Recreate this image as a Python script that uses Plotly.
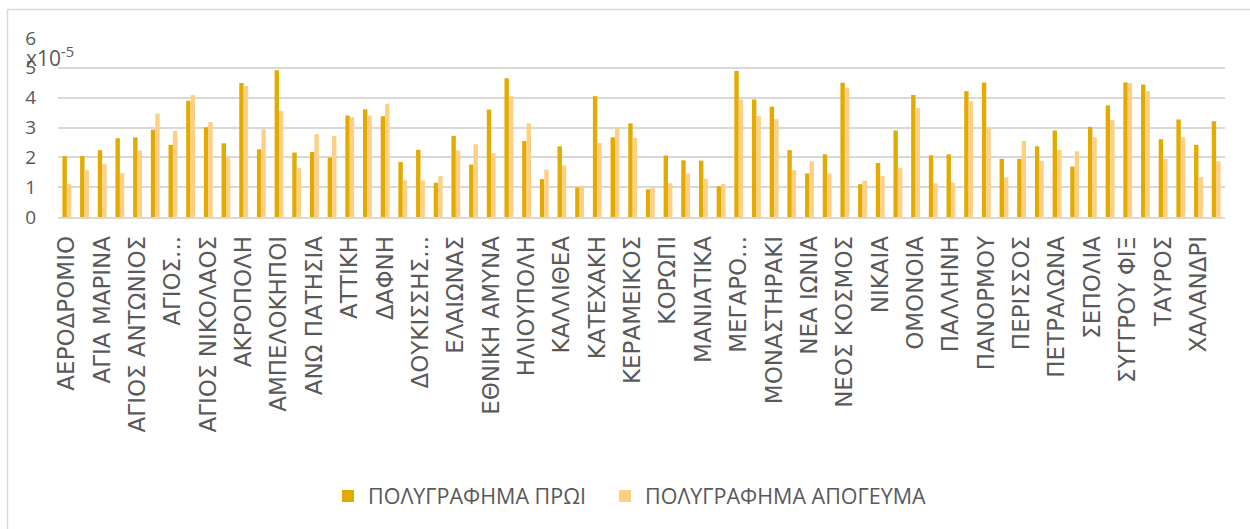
import plotly.graph_objects as go

# Stations (category axis); only every second one gets a visible tick label
stations = [
    "ΑΕΡΟΔΡΟΜΙΟ", "ΑΓΙΑ ΒΑΡΒΑΡΑ", "ΑΓΙΑ ΜΑΡΙΝΑ", "ΑΓΙΑ ΠΑΡΑΣΚΕΥΗ",
    "ΑΓΙΟΣ ΑΝΤΩΝΙΟΣ", "ΑΓΙΟΣ ΔΗΜΗΤΡΙΟΣ", "ΑΓΙΟΣ ΕΛΕΥΘΕΡΙΟΣ", "ΑΓΙΟΣ ΙΩΑΝΝΗΣ",
    "ΑΓΙΟΣ ΝΙΚΟΛΑΟΣ", "ΑΙΓΑΛΕΩ", "ΑΚΡΟΠΟΛΗ", "ΑΛΙΜΟΣ",
    "ΑΜΠΕΛΟΚΗΠΟΙ", "ΑΝΘΟΥΠΟΛΗ", "ΑΝΩ ΠΑΤΗΣΙΑ", "ΑΡΓΥΡΟΥΠΟΛΗ",
    "ΑΤΤΙΚΗ", "ΒΙΚΤΩΡΙΑ", "ΔΑΦΝΗ", "ΔΗΜΟΤΙΚΟ ΘΕΑΤΡΟ",
    "ΔΟΥΚΙΣΣΗΣ ΠΛΑΚΕΝΤΙΑΣ", "ΕΙΡΗΝΗ", "ΕΛΑΙΩΝΑΣ", "ΕΛΛΗΝΙΚΟ",
    "ΕΘΝΙΚΗ ΑΜΥΝΑ", "ΕΥΑΓΓΕΛΙΣΜΟΣ", "ΗΛΙΟΥΠΟΛΗ", "ΘΗΣΕΙΟ",
    "ΚΑΛΛΙΘΕΑ", "ΚΑΝΤΖΑ", "ΚΑΤΕΧΑΚΗ", "ΚΑΤΩ ΠΑΤΗΣΙΑ",
    "ΚΕΡΑΜΕΙΚΟΣ", "ΚΗΦΙΣΙΑ", "ΚΟΡΩΠΙ", "ΛΑΡΙΣΗΣ",
    "ΜΑΝΙΑΤΙΚΑ", "ΜΑΡΟΥΣΙ", "ΜΕΓΑΡΟ ΜΟΥΣΙΚΗΣ", "ΜΕΤΑΞΟΥΡΓΕΙΟ",
    "ΜΟΝΑΣΤΗΡΑΚΙ", "ΜΟΣΧΑΤΟ", "ΝΕΑ ΙΩΝΙΑ", "ΝΕΟ ΦΑΛΗΡΟ",
    "ΝΕΟΣ ΚΟΣΜΟΣ", "ΝΕΡΑΤΖΙΩΤΙΣΣΑ", "ΝΙΚΑΙΑ", "ΝΟΜΙΣΜΑΤΟΚΟΠΕΙΟ",
    "ΟΜΟΝΟΙΑ", "ΠΑΙΑΝΙΑ", "ΠΑΛΛΗΝΗ", "ΠΑΝΕΠΙΣΤΗΜΙΟ",
    "ΠΑΝΟΡΜΟΥ", "ΠΕΙΡΑΙΑΣ", "ΠΕΡΙΣΣΟΣ", "ΠΕΡΙΣΤΕΡΙ",
    "ΠΕΤΡΑΛΩΝΑ", "ΡΟΥΦ", "ΣΕΠΟΛΙΑ", "ΣΤΑΥΡΟΣ",
    "ΣΥΓΓΡΟΥ ΦΙΞ", "ΣΥΝΤΑΓΜΑ", "ΤΑΥΡΟΣ", "ΦΑΛΗΡΟ",
    "ΧΑΛΑΝΔΡΙ", "ΧΟΛΑΡΓΟΣ",
]

# Labels shown on the axis (long names are cut with an ellipsis)
tick_labels = [
    "ΑΕΡΟΔΡΟΜΙΟ", "ΑΓΙΑ ΜΑΡΙΝΑ", "ΑΓΙΟΣ ΑΝΤΩΝΙΟΣ", "ΑΓΙΟΣ...",
    "ΑΓΙΟΣ ΝΙΚΟΛΑΟΣ", "ΑΚΡΟΠΟΛΗ", "ΑΜΠΕΛΟΚΗΠΟΙ", "ΑΝΩ ΠΑΤΗΣΙΑ",
    "ΑΤΤΙΚΗ", "ΔΑΦΝΗ", "ΔΟΥΚΙΣΣΗΣ...", "ΕΛΑΙΩΝΑΣ",
    "ΕΘΝΙΚΗ ΑΜΥΝΑ", "ΗΛΙΟΥΠΟΛΗ", "ΚΑΛΛΙΘΕΑ", "ΚΑΤΕΧΑΚΗ",
    "ΚΕΡΑΜΕΙΚΟΣ", "ΚΟΡΩΠΙ", "ΜΑΝΙΑΤΙΚΑ", "ΜΕΓΑΡΟ...",
    "ΜΟΝΑΣΤΗΡΑΚΙ", "ΝΕΑ ΙΩΝΙΑ", "ΝΕΟΣ ΚΟΣΜΟΣ", "ΝΙΚΑΙΑ",
    "ΟΜΟΝΟΙΑ", "ΠΑΛΛΗΝΗ", "ΠΑΝΟΡΜΟΥ", "ΠΕΡΙΣΣΟΣ",
    "ΠΕΤΡΑΛΩΝΑ", "ΣΕΠΟΛΙΑ", "ΣΥΓΓΡΟΥ ΦΙΞ", "ΤΑΥΡΟΣ",
    "ΧΑΛΑΝΔΡΙ",
]

# Values in units of 1e-5
morning = [
    2.04, 2.04, 2.24, 2.64, 2.67, 2.93, 2.42, 3.90, 3.01, 2.47,
    4.49, 2.27, 4.92, 2.16, 2.18, 1.99, 3.40, 3.61, 3.38, 1.84,
    2.25, 1.15, 2.72, 1.76, 3.60, 4.65, 2.55, 1.27, 2.37, 0.99,
    4.05, 2.67, 3.14, 0.93, 2.06, 1.90, 1.89, 1.03, 4.89, 3.94,
    3.70, 2.24, 1.46, 2.10, 4.50, 1.10, 1.81, 2.90, 4.09, 2.07,
    2.10, 4.22, 4.51, 1.95, 1.95, 2.37, 2.90, 1.69, 3.02, 3.74,
    4.51, 4.44, 2.61, 3.27, 2.42, 3.21,
]
afternoon = [
    1.11, 1.57, 1.77, 1.47, 2.23, 3.47, 2.89, 4.09, 3.18, 2.00,
    4.39, 2.94, 3.56, 1.65, 2.78, 2.72, 3.35, 3.40, 3.80, 1.23,
    1.23, 1.37, 2.23, 2.44, 2.14, 4.05, 3.14, 1.59, 1.73, 1.05,
    2.48, 3.01, 2.65, 0.97, 1.13, 1.46, 1.29, 1.11, 3.94, 3.38,
    3.28, 1.57, 1.87, 1.46, 4.33, 1.22, 1.37, 1.65, 3.65, 1.13,
    1.15, 3.88, 2.98, 1.33, 2.55, 1.88, 2.25, 2.20, 2.67, 3.26,
    4.49, 4.22, 1.95, 2.67, 1.34, 1.87,
]

y_ticks = [0, 1, 2, 3, 4, 5, 6]

FONT = "Open Sans"
LABEL_FONT = "DejaVu Sans"
TEXT = "#595959"
GRID = "#d9d9d9"

W, H = 1250, 529
ML, MR, MT, MB = 58, 25, 38, 312
PW, PH = W - ML - MR, H - MT - MB


def px_x(p):
    return (p - ML) / PW


def px_y(p):
    return (H - MB - p) / PH


fig = go.Figure()
fig.add_trace(go.Bar(
    x=stations, y=morning, name="ΠΟΛΥΓΡΑΦΗΜΑ ΠΡΩΙ",
    marker=dict(color="#E3AB00", line=dict(width=0)),
    legend="legend",
))
fig.add_trace(go.Bar(
    x=stations, y=afternoon, name="ΠΟΛΥΓΡΑΦΗΜΑ ΑΠΟΓΕΥΜΑ",
    marker=dict(color="#FFD083", line=dict(width=0)),
    legend="legend2",
))

legend_style = dict(
    orientation="h", xanchor="left", y=px_y(496), yanchor="middle",
    font=dict(size=21.5, color=TEXT, family=FONT),
    itemwidth=30, bgcolor="rgba(0,0,0,0)",
)

fig.update_layout(
    width=W, height=H,
    margin=dict(l=ML, r=MR, t=MT, b=MB, pad=0),
    paper_bgcolor="white", plot_bgcolor="white",
    barmode="group", bargap=0.5, bargroupgap=0.0,
    font=dict(family=FONT, color=TEXT, size=19),
    showlegend=True,
    legend=dict(x=px_x(328), **legend_style),
    legend2=dict(x=px_x(605), **legend_style),
    xaxis=dict(
        type="category", categoryorder="array", categoryarray=stations,
        tickmode="array", tickvals=stations[::2], ticktext=tick_labels,
        tickangle=-90, ticks="", showgrid=False,
        showline=True, linecolor=GRID, linewidth=1.5,
        tickfont=dict(size=23, color=TEXT, family=LABEL_FONT),
        ticklabelstandoff=8,
        range=[-0.5, len(stations) - 0.5],
    ),
    yaxis=dict(
        range=[0, 6], tickvals=y_ticks, ticktext=[str(v) for v in y_ticks],
        showgrid=True, gridcolor=GRID, gridwidth=1.5,
        zeroline=False, showline=False, ticks="",
        tickfont=dict(size=19, color=TEXT, family=FONT),
        ticklabelstandoff=21,
    ),
    annotations=[dict(
        text="x10<sup>-5</sup>", xref="paper", yref="paper",
        x=px_x(24), y=px_y(56), xanchor="left", yanchor="middle",
        showarrow=False, font=dict(size=21, color=TEXT, family=FONT),
    )],
    shapes=[dict(
        type="rect", xref="paper", yref="paper",
        x0=px_x(7.5), x1=px_x(W + 5), y0=px_y(H + 5), y1=px_y(9.5),
        line=dict(color=GRID, width=1.5), fillcolor="rgba(0,0,0,0)",
        layer="below",
    )],
)

fig.write_html("out.html")
